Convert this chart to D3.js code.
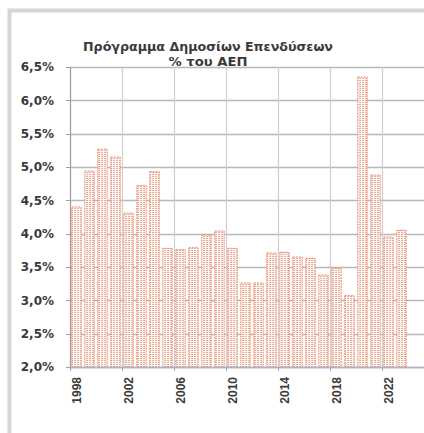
<!DOCTYPE html>
<html>
<head>
<meta charset="utf-8">
<script src="https://cdn.jsdelivr.net/npm/d3@7"></script>
<style>
  html, body { margin: 0; padding: 0; background: #fff; }
  svg { display: block; }
</style>
</head>
<body>
<svg id="chart"></svg>
<script>
// data
const years = d3.range(1998, 2024).map(String);
const values = [4.40, 4.94, 5.27, 5.15, 4.31, 4.72, 4.93, 3.78, 3.76, 3.79,
                3.98, 4.04, 3.78, 3.26, 3.26, 3.71, 3.72, 3.65, 3.63, 3.38,
                3.48, 3.07, 6.35, 4.88, 3.95, 4.05];
const yTicks = [2.0, 2.5, 3.0, 3.5, 4.0, 4.5, 5.0, 5.5, 6.0, 6.5];
const xTickYears = ['1998', '2002', '2006', '2010', '2014', '2018', '2022'];
const titleLines = ['Πρόγραμμα Δημοσίων Επενδύσεων', '% του ΑΕΠ'];

const width = 424, height = 433;
const plotLeft = 70, plotTop = 67, plotBottom = 367;
const band = 13;

const svg = d3.select('#chart').attr('width', width).attr('height', height);

// frame
svg.append('rect').attr('x', 9.5).attr('y', 10.5)
  .attr('width', width + 20).attr('height', height + 20)
  .attr('fill', '#fff').attr('stroke', '#d6d6d6').attr('stroke-width', 4);

const x = d3.scaleBand().domain(years).range([plotLeft, plotLeft + band * years.length])
  .paddingInner(0.28).paddingOuter(0.14);
const y = d3.scaleLinear().domain([2, 6.5]).range([plotBottom, plotTop]);

// bar pattern: dotted vertical stripes
const pat = svg.append('defs').append('pattern')
  .attr('id', 'dots').attr('patternUnits', 'userSpaceOnUse')
  .attr('width', 3).attr('height', 2);
pat.append('rect').attr('width', 3).attr('height', 2).attr('fill', '#fdf6f3');
pat.append('rect').attr('x', 0).attr('width', 1).attr('height', 1).attr('fill', '#ef9f86');
pat.append('rect').attr('x', 2).attr('width', 1).attr('height', 1).attr('fill', '#d9bcb1');

// horizontal grid
svg.append('g').selectAll('line').data(yTicks).join('line')
  .attr('x1', plotLeft).attr('x2', width)
  .attr('y1', d => Math.round(y(d)) + 0.5).attr('y2', d => Math.round(y(d)) + 0.5)
  .attr('stroke', '#b8b8b8').attr('stroke-width', 1.3);

// vertical grid at every 4th category boundary
const step = x.step();
const vx = xTickYears.slice(1).map(t => x(t) - step * x.paddingInner() / 2);
vx.push(vx[vx.length - 1] + step * 4);
svg.append('g').selectAll('line').data(vx).join('line')
  .attr('x1', d => Math.round(d) + 0.5).attr('x2', d => Math.round(d) + 0.5)
  .attr('y1', plotTop).attr('y2', plotBottom)
  .attr('stroke', '#cfcfcf').attr('stroke-width', 1.2);

// bars
svg.append('g').selectAll('rect').data(values).join('rect')
  .attr('x', (d, i) => x(years[i]))
  .attr('y', d => y(d))
  .attr('width', x.bandwidth())
  .attr('height', d => plotBottom - y(d))
  .attr('fill', 'url(#dots)')
  .attr('stroke', '#ec8a6a').attr('stroke-width', 1)
  .attr('stroke-dasharray', '2,1');

// y axis line
svg.append('line').attr('x1', plotLeft + 0.5).attr('x2', plotLeft + 0.5)
  .attr('y1', plotTop).attr('y2', plotBottom + 3)
  .attr('stroke', '#a0a0a0').attr('stroke-width', 1.3);
// x axis line
svg.append('line').attr('x1', plotLeft).attr('x2', width)
  .attr('y1', plotBottom + 0.5).attr('y2', plotBottom + 0.5)
  .attr('stroke', '#a9b6c8').attr('stroke-width', 1.3);

// y tick marks and labels
svg.append('g').selectAll('line').data(yTicks).join('line')
  .attr('x1', plotLeft - 4).attr('x2', plotLeft)
  .attr('y1', d => Math.round(y(d)) + 0.5).attr('y2', d => Math.round(y(d)) + 0.5)
  .attr('stroke', '#a0a0a0');
svg.append('g').selectAll('text').data(yTicks).join('text')
  .attr('x', 54).attr('y', d => y(d)).attr('dy', '0.35em')
  .attr('text-anchor', 'end')
  .attr('font-family', 'DejaVu Sans, sans-serif').attr('font-weight', 'bold')
  .attr('font-size', 12).attr('fill', '#3a3a3a')
  .text(d => d.toFixed(1).replace('.', ',') + '%');

// x tick marks
svg.append('g').selectAll('line').data([plotLeft].concat(vx)).join('line')
  .attr('x1', d => Math.round(d) + 0.5).attr('x2', d => Math.round(d) + 0.5)
  .attr('y1', plotBottom).attr('y2', plotBottom + 4)
  .attr('stroke', '#8ea6c4');

// x labels
svg.append('g').selectAll('text').data(xTickYears).join('text')
  .attr('transform', d => `translate(${x(d) + x.bandwidth() / 2},377) rotate(-90)`)
  .attr('dy', '0.35em').attr('text-anchor', 'end')
  .attr('font-family', 'Liberation Sans, Arial, sans-serif').attr('font-weight', 'bold')
  .attr('font-size', 12).attr('fill', '#3a3a3a')
  .text(d => d);

// title
svg.append('g').selectAll('text').data(titleLines).join('text')
  .attr('x', 208).attr('y', (d, i) => 51 + i * 15)
  .attr('text-anchor', 'middle')
  .attr('font-family', 'DejaVu Sans, sans-serif').attr('font-weight', 'bold')
  .attr('font-size', 12).attr('fill', '#3a3a3a')
  .attr('textLength', (d, i) => i === 0 ? 250 : 79)
  .attr('lengthAdjust', 'spacingAndGlyphs')
  .text(d => d);
</script>
</body>
</html>
